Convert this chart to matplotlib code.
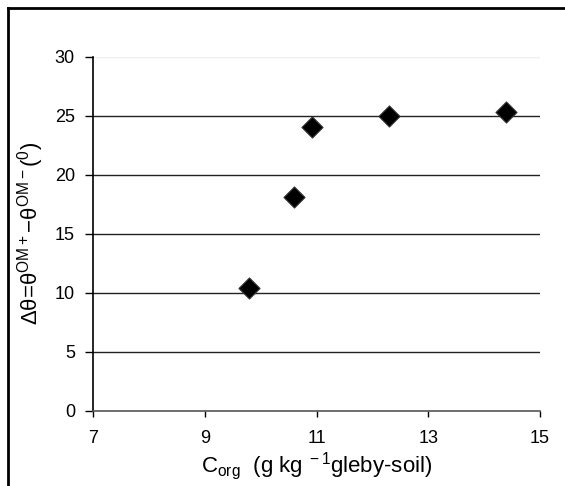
import matplotlib.pyplot as plt
from matplotlib.lines import Line2D

plt.rcParams['font.family'] = ['Liberation Sans', 'DejaVu Sans']
plt.rcParams['mathtext.fontset'] = 'custom'
plt.rcParams['mathtext.rm'] = 'Liberation Sans'
plt.rcParams['mathtext.it'] = 'Liberation Sans:italic'

# organic carbon content vs. contact angle difference
c_org = [9.80, 10.59, 10.92, 12.30, 14.39]
d_theta = [10.4, 18.1, 24.0, 25.0, 25.3]

x_ticks = [7, 9, 11, 13, 15]
y_ticks = [0, 5, 10, 15, 20, 25, 30]

fig = plt.figure(figsize=(5.65, 4.86), dpi=100)
ax = fig.add_axes([93/565, 1-410.7/486, 447/565, 354/486])

for y in y_ticks[1:]:
    ax.axhline(y, color='#222222' if y < 30 else '#eeeeee', lw=1.0, zorder=1)

ax.scatter(c_org, d_theta, marker='D', s=115, color='black',
           edgecolors='#333333', linewidths=0.8, zorder=3)

ax.set_xlim(7, 15)
ax.set_ylim(0, 30)
ax.set_xticks(x_ticks)
ax.set_yticks(y_ticks)
ax.tick_params(axis='both', labelsize=13, direction='out', width=1.0)
ax.tick_params(axis='x', length=4, pad=10)
ax.tick_params(axis='y', length=6, pad=7)

for s in ['top', 'right']:
    ax.spines[s].set_visible(False)
ax.spines['left'].set_color('black')
ax.spines['bottom'].set_color('#555555')
ax.spines['left'].set_linewidth(1.2)
ax.spines['bottom'].set_linewidth(1.2)

ax.set_xlabel(r'C$_{\mathrm{org}}$  (g kg$^{\mathrm{\ -1}}$gleby-soil)', fontsize=16, labelpad=2)
ax.set_ylabel('Δθ=θ$^{\\mathrm{OM+}}$−θ$^{\\mathrm{OM−}}$($^{\\mathrm{0}}$)', fontsize=16, labelpad=6)

# outer frame, only top and left edges fall inside the image
fig.add_artist(Line2D([8/565, 8/565], [0, 1-8/486], transform=fig.transFigure, color='black', lw=2))
fig.add_artist(Line2D([8/565, 1], [1-8/486, 1-8/486], transform=fig.transFigure, color='black', lw=2))

fig.savefig('out.png', dpi=100)
